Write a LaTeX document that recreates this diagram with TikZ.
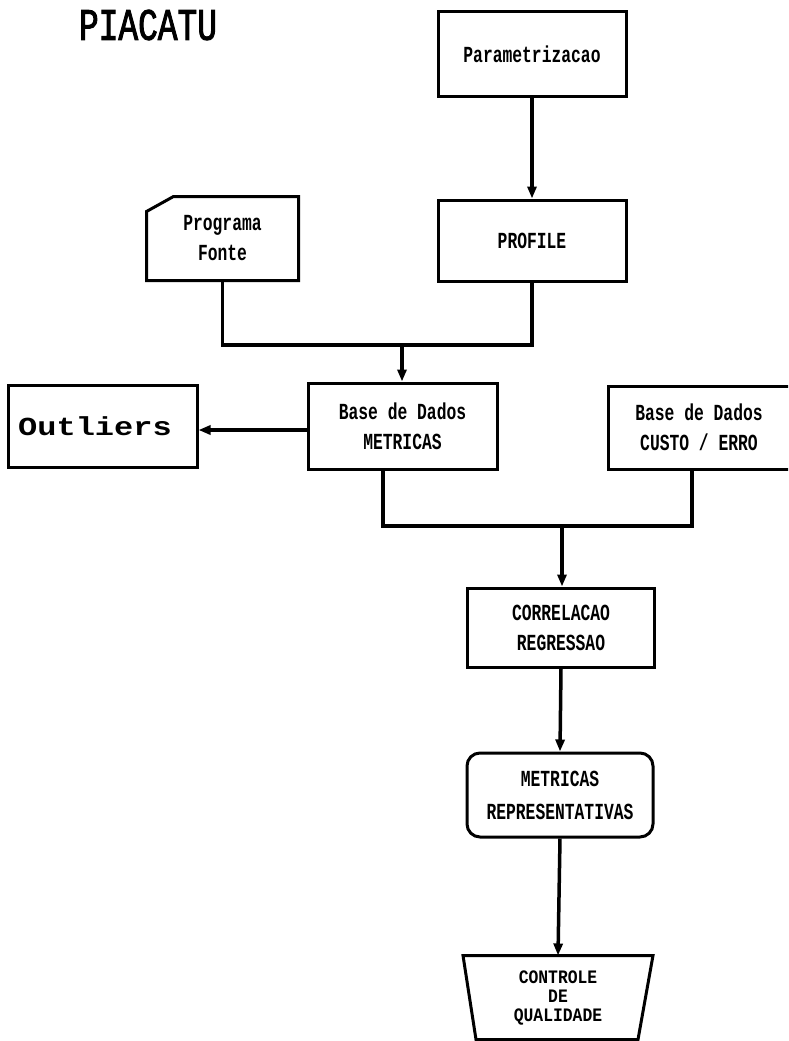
\documentclass[tikz,border=0pt]{standalone}
\usepackage{fontspec}
\usetikzlibrary{arrows.meta}
\newfontfamily\dotfont[FakeStretch=0.71]{Liberation Mono}
\newfontfamily\ctrlfont[FakeStretch=0.86]{Liberation Mono}
\newfontfamily\widefont[FakeStretch=1.23]{Liberation Mono}
\newfontfamily\titlefont[FakeStretch=0.73,FakeBold=2]{Liberation Mono}
\tikzset{
  box/.style={draw=black, line width=3pt, inner sep=0pt, align=center,
    font=\dotfont\bfseries\fontsize{23}{30}\selectfont},
  conn/.style={draw=black, line width=3.5pt},
  arr/.style={conn, -{Triangle[length=12pt,width=9pt]}},
}
\begin{document}
\begin{tikzpicture}[x=1pt,y=-1pt]
\fill[white] (0,0) rectangle (788,1041);
\clip (0,0) rectangle (788,1041);
\useasboundingbox (0,0) rectangle (788,1041);

\node[font=\titlefont\fontsize{45}{45}\selectfont, inner sep=0pt] (title) at (148,25) {PIACATU};

\node[box, minimum width=188pt, minimum height=84pt] (param) at (532,54) {Parametrizacao};
\node[box, minimum width=188pt, minimum height=81pt] (profile) at (532,240.5) {PROFILE};
\node[box, draw=none, minimum width=149pt, minimum height=81pt] (prog) at (222.5,238.5) {Programa\\Fonte};
\draw[line width=3pt, line join=miter]
  ([xshift=27pt]prog.north west) -- (prog.north east) -- (prog.south east)
  -- (prog.south west) -- ([yshift=-15pt]prog.north west) -- cycle;

\node[box, minimum width=189pt, minimum height=86pt] (metricas) at (402.5,426) {Base de Dados\\METRICAS};
\node[box, minimum width=182pt, minimum height=83pt] (custo) at (699,427.5) {Base de Dados\\CUSTO / ERRO};
\node[box, minimum width=189pt, minimum height=82pt, font=\widefont\bfseries\fontsize{26}{26}\selectfont] (outliers) at (102.5,426) {Outliers\hspace*{15pt}};

\node[box, minimum width=187pt, minimum height=79pt] (correl) at (561,627.5) {CORRELACAO\\REGRESSAO};
\node[box, rounded corners=13pt, minimum width=186pt, minimum height=84pt, font=\dotfont\bfseries\fontsize{23}{33}\selectfont] (metrep) at (560,795) {METRICAS\\REPRESENTATIVAS};
\node[box, draw=none, minimum width=187pt, minimum height=80pt, font=\ctrlfont\bfseries\fontsize{19}{19}\selectfont] (ctrl) at (558,998) {CONTROLE\\DE\\QUALIDADE};
\draw[line width=3pt, line join=miter]
  ([yshift=1pt]ctrl.north west) -- ([yshift=1pt]ctrl.north east) -- ([xshift=-15pt]ctrl.south east)
  -- ([xshift=13pt]ctrl.south west) -- cycle;

% connectors
\draw[arr] (param.south) -- (profile.north);

\coordinate (j1) at (402,345);
\draw[conn] (prog.south) -- (prog.south |- j1) -- (j1);
\draw[conn] (profile.south) -- (profile.south |- j1) -- (j1);
\draw[arr] (j1) -- (j1 |- metricas.north);

\draw[arr] ([yshift=-4pt]metricas.west) -- ([yshift=-4pt]outliers.east);

\coordinate (j2) at (562,526);
\draw[conn] ([xshift=-19.5pt]metricas.south) -- ([xshift=-19.5pt]metricas.south |- j2) -- (j2);
\draw[conn] ([xshift=-7pt]custo.south) -- ([xshift=-7pt]custo.south |- j2) -- (j2);
\draw[arr] (j2) -- (j2 |- correl.north);

\draw[arr] (correl.south) -- (metrep.north);
\draw[arr] (metrep.south) -- ([yshift=1pt]ctrl.north);
\end{tikzpicture}
\end{document}
